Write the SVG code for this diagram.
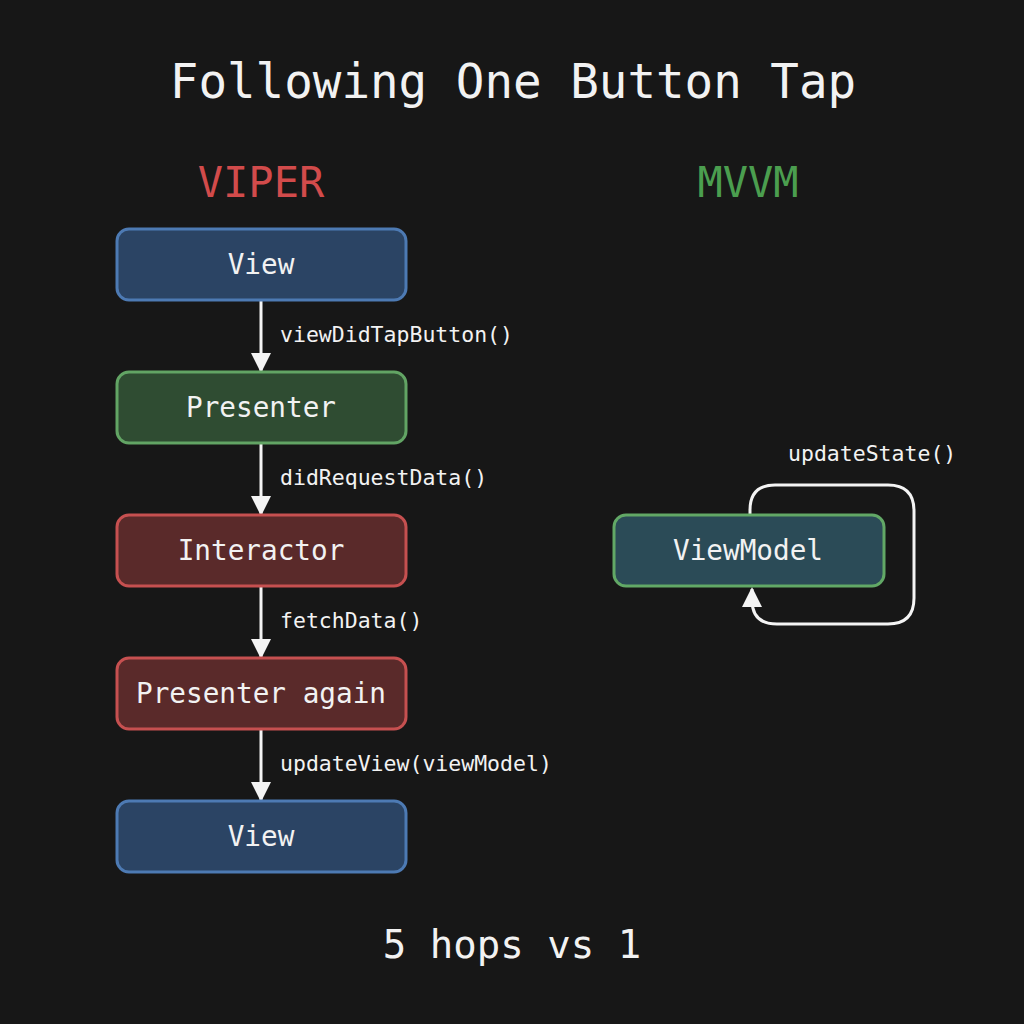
<svg xmlns="http://www.w3.org/2000/svg" width="1024" height="1024" viewBox="0 0 1024 1024">
<defs>
<style>
text{font-family:"DejaVu Sans Mono","Liberation Mono",monospace;fill:#f2f2f2;text-anchor:middle}
.node{stroke-width:3}
.blue{fill:#2b4464;stroke:#4d7ab3}
.green{fill:#2f4c32;stroke:#62a464}
.red{fill:#5a2a2a;stroke:#c65050}
.vm{fill:#2b4b57;stroke:#62a866}
.lbl{font-size:27.7px}
.edge{font-size:21.5px;text-anchor:start}
.conn{stroke:#f4f4f4;stroke-width:3;fill:none}
</style>
<marker id="ah2" viewBox="0 0 10 10" refX="9" refY="5" markerWidth="20" markerHeight="20" markerUnits="userSpaceOnUse" orient="auto">
<path d="M0,0 L10,5 L0,10 z" fill="#f4f4f4"/>
</marker>
</defs>
<rect width="1024" height="1024" fill="#171717"/>
<text x="513" y="98" style="font-size:47.5px">Following One Button Tap</text>
<text x="261" y="197" style="font-size:42px;fill:#d24b4b">VIPER</text>
<text x="748" y="197" style="font-size:42px;fill:#4b9e4f">MVVM</text>

<g id="connectors">
<line class="conn" x1="261" y1="301" x2="261" y2="371" marker-end="url(#ah2)"/>
<line class="conn" x1="261" y1="444" x2="261" y2="514" marker-end="url(#ah2)"/>
<line class="conn" x1="261" y1="587" x2="261" y2="657" marker-end="url(#ah2)"/>
<line class="conn" x1="261" y1="730" x2="261" y2="800" marker-end="url(#ah2)"/>
<path class="conn" d="M750,514 L750,510 Q750,485 775,485 L888,485 Q914,485 914,511 L914,598 Q914,624 888,624 L777,624 Q752,624 752,600 L752,589" marker-end="url(#ah2)"/>
<text class="edge" x="280" y="342">viewDidTapButton()</text>
<text class="edge" x="280" y="485">didRequestData()</text>
<text class="edge" x="280" y="628">fetchData()</text>
<text class="edge" x="280" y="771">updateView(viewModel)</text>
<text class="edge" x="788" y="461">updateState()</text>
</g>

<g id="view1"><rect class="node blue" x="117" y="229" width="289" height="71" rx="12"/><text class="lbl" x="261" y="274">View</text></g>
<g id="presenter"><rect class="node green" x="117" y="372" width="289" height="71" rx="12"/><text class="lbl" x="261" y="417">Presenter</text></g>
<g id="interactor"><rect class="node red" x="117" y="515" width="289" height="71" rx="12"/><text class="lbl" x="261" y="560">Interactor</text></g>
<g id="presenter2"><rect class="node red" x="117" y="658" width="289" height="71" rx="12"/><text class="lbl" x="261" y="703">Presenter again</text></g>
<g id="view2"><rect class="node blue" x="117" y="801" width="289" height="71" rx="12"/><text class="lbl" x="261" y="846">View</text></g>
<g id="viewmodel"><rect class="node vm" x="614" y="515" width="270" height="71" rx="12"/><text class="lbl" x="748" y="560">ViewModel</text></g>

<text x="512" y="958" style="font-size:39px">5 hops vs 1</text>
</svg>
